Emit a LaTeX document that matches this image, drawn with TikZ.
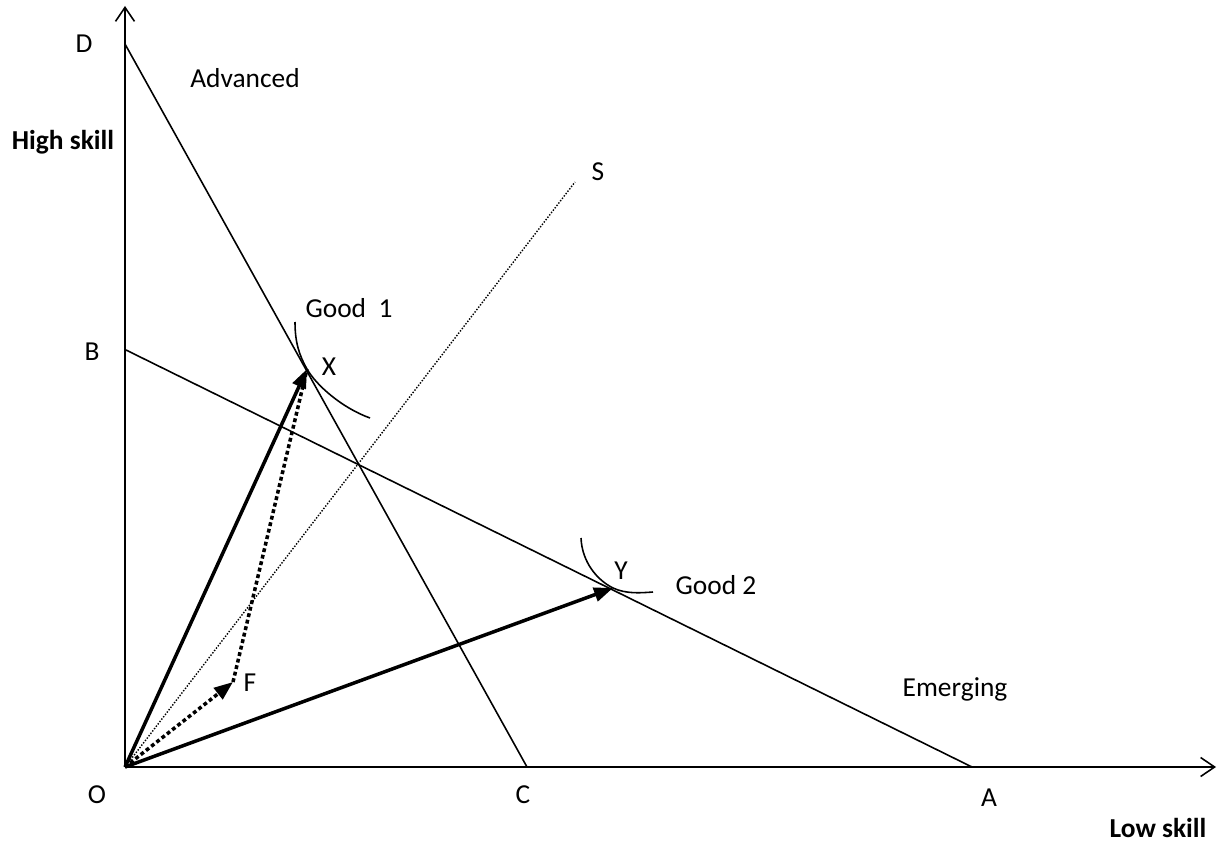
\documentclass[tikz,border=0pt]{standalone}
\usepackage{fontspec}
\setmainfont{Carlito}
\usetikzlibrary{arrows.meta}

\begin{document}
\begin{tikzpicture}[
  x=0.02cm, y=-0.02cm,
  axis/.style={line width=0.9pt, -{Straight Barb[length=2.8mm, width=3.8mm, line width=0.9pt]}},
  budget/.style={line width=0.9pt},
  isoquant/.style={line width=0.9pt},
  vec/.style={line width=2pt, -{Triangle[length=3.8mm, width=2.8mm]}},
  dotvec/.style={line width=2pt, dash pattern=on 2.2pt off 1.6pt},
  ray/.style={line width=0.8pt, dash pattern=on 0.8pt off 0.9pt},
  lbl/.style={font=\fontsize{15.6}{18}\selectfont, inner sep=0pt},
  axlbl/.style={font=\fontsize{15.6}{18}\selectfont\bfseries, inner sep=0pt},
]
\useasboundingbox (0,0) rectangle (1229,844);

% Points
\coordinate (O) at (125,767);
\coordinate (ytop) at (125,6);
\coordinate (xend) at (1216,767);
\coordinate (D) at (125,44);
\coordinate (B) at (126,350);
\coordinate (C) at (527,767);
\coordinate (A) at (972,767);
\coordinate (X) at (307,369);
\coordinate (Y) at (613,588);
\coordinate (F) at (233,682);
\coordinate (S) at (575,182);

% Axes
\draw[axis] (O) -- (ytop);
\draw[axis] (O) -- (xend);

% Budget lines
\draw[budget] (D) -- (C);
\draw[budget] (B) -- (A);

% Skill ray
\draw[ray] (O) -- (S);

% Isoquants
\draw[isoquant] (295,322) .. controls (295,342) and (299,355) .. (X)
  .. controls (316,385) and (342,408) .. (370,418);
\draw[isoquant] (581,538) .. controls (582,562) and (597,580) .. (Y)
  .. controls (626,594) and (640,593) .. (653,592);

% Vectors
\draw[dotvec] (F) -- (X);
\draw[vec] (O) -- (X);
\draw[vec] (O) -- (Y);
\draw[dotvec, -{Triangle[length=3.8mm, width=2.8mm]}] (O) -- (F);

% Labels
\node[lbl] (lblD) at (84,44) {D};
\node[lbl] (lblB) at (92,352) {B};
\node[lbl] (lblO) at (97,795) {O};
\node[lbl] (lblC) at (523,795) {C};
\node[lbl] (lblA) at (989,798) {A};
\node[lbl] (lblX) at (329,367) {X};
\node[lbl] (lblY) at (621,571) {Y};
\node[lbl] (lblF) at (250,683) {F};
\node[lbl] (lblS) at (598,172) {S};
\node[lbl] (good1) at (349,308) {Good~~1};
\node[lbl] (good2) at (716,585) {Good 2};
\node[lbl] (advanced) at (245,78) {Advanced};
\node[lbl] (emerging) at (955,689) {Emerging};
\node[axlbl] (high) at (63,142) {High skill};
\node[axlbl] (low) at (1158,828) {Low skill};

\end{tikzpicture}
\end{document}
